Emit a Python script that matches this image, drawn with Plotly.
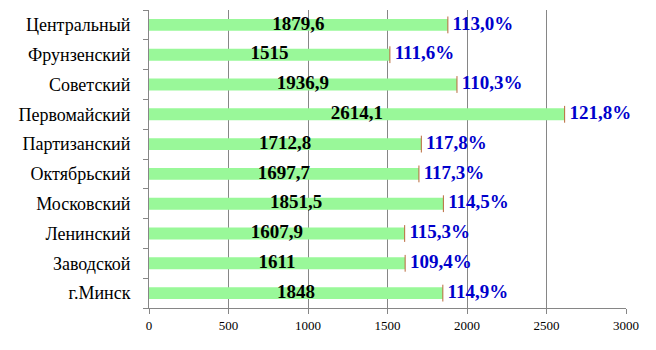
import plotly.graph_objects as go

districts = ["Центральный", "Фрунзенский", "Советский", "Первомайский", "Партизанский",
             "Октябрьский", "Московский", "Ленинский", "Заводской", "г.Минск"]
values = [1879.6, 1515, 1936.9, 2614.1, 1712.8, 1697.7, 1851.5, 1607.9, 1611, 1848]
growth = ["113,0%", "111,6%", "110,3%", "121,8%", "117,8%", "117,3%", "114,5%", "115,3%", "109,4%", "114,9%"]
x_ticks = [0, 500, 1000, 1500, 2000, 2500, 3000]

value_text = [f"{v:g}".replace(".", ",") for v in values]
bar_mid = [v / 2 for v in values]
SERIF = "Liberation Serif, Times New Roman, serif"

fig = go.Figure()

fig.add_trace(go.Bar(
    y=districts, x=values, orientation="h",
    width=0.4,
    marker=dict(color="#99F899", line=dict(width=0)),
    hoverinfo="skip",
))

# thin dark edge at the end of each bar
fig.add_trace(go.Scatter(
    y=districts, x=values, mode="markers",
    marker=dict(symbol="line-ns", size=12, line=dict(width=1, color="#B8693A")),
    hoverinfo="skip",
))

# value centred on each bar
fig.add_trace(go.Scatter(
    y=districts, x=bar_mid, mode="text",
    text=["<b>" + t + "</b>" for t in value_text], textposition="middle center",
    textfont=dict(family=SERIF, size=19, color="black"),
    hoverinfo="skip",
))

# growth rate next to each bar
fig.add_trace(go.Scatter(
    y=districts, x=values, mode="text",
    text=["\u00a0<b>" + g + "</b>" for g in growth], textposition="middle right",
    textfont=dict(family=SERIF, size=19, color="#0000CC"),
    cliponaxis=False,
    hoverinfo="skip",
))

fig.update_layout(
    width=656, height=350,
    margin=dict(l=149, r=30, t=10, b=42),
    paper_bgcolor="white", plot_bgcolor="white",
    showlegend=False,
    font=dict(family=SERIF),
    xaxis=dict(
        range=[0, 3000], tickvals=x_ticks, ticktext=[str(t) for t in x_ticks],
        showgrid=True, gridcolor="#868686", gridwidth=1,
        showline=True, linecolor="#868686", linewidth=1,
        ticks="outside", ticklen=5, tickcolor="#868686",
        tickfont=dict(family=SERIF, size=13, color="black"),
        zeroline=False,
    ),
    yaxis=dict(
        categoryorder="array", categoryarray=districts[::-1],
        autorange=False, range=[-0.5, 9.5],
        showline=True, linecolor="#868686", linewidth=1,
        ticks="outside", ticklen=5, tickcolor="#868686", tickson="boundaries",
        tickfont=dict(family=SERIF, size=18, color="black"),
        ticklabelstandoff=14,
        showgrid=False,
    ),
)

fig.write_html("out.html")
